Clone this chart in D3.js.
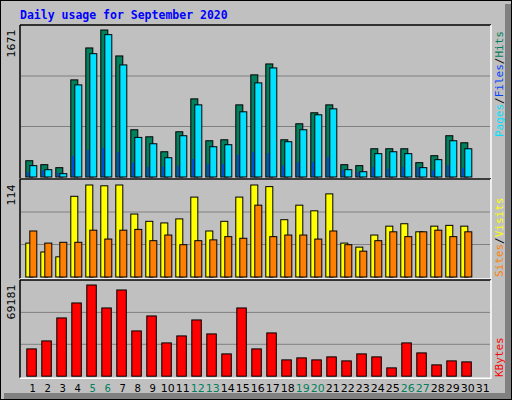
<!DOCTYPE html>
<html><head><meta charset="utf-8">
<script src="https://cdn.jsdelivr.net/npm/d3@7"></script>
<style>body{margin:0;background:#fff}text{font-family:"DejaVu Sans Mono",monospace}</style>
</head><body><svg id="c" width="512" height="400"></svg>
<script>
const days = d3.range(1, 32);
const weekends = [5, 6, 12, 13, 19, 20, 26, 27];
const hits = [185,140,106,1104,1467,1671,1376,537,457,287,514,888,412,423,820,1161,1285,423,605,730,820,140,129,321,321,321,163,242,469,389];
const files = [129,83,38,1047,1402,1618,1274,450,378,219,469,820,344,367,741,1070,1240,401,537,707,775,83,60,265,287,265,106,197,412,321];
const pages = [53,70,45,234,302,325,280,155,110,110,121,200,144,144,246,276,265,121,163,163,223,76,53,106,87,106,106,72,129,95];
const visits = [42,31,25,100,114,113,114,78,69,67,72,99,57,69,99,114,112,71,89,82,103,42,37,52,63,66,56,63,64,63];
const sites = [57,42,43,43,58,47,58,59,45,52,40,45,46,50,48,89,50,52,52,47,57,40,32,45,56,50,56,58,50,56];
const kbytes = [20705,26763,44186,55548,69181,51760,65395,34339,45701,25249,30552,42671,32067,16917,51760,20705,32824,12372,13887,12372,14645,11615,16917,14645,6312,25249,17674,8585,11615,10857];

const svg = d3.select('#c');
svg.append('rect').attr('width', 512).attr('height', 400).attr('fill', '#c0c0c0');
svg.append('rect').attr('x', 505).attr('y', 4).attr('width', 7).attr('height', 396).attr('fill', '#808080');
svg.append('rect').attr('x', 4).attr('y', 393).attr('width', 508).attr('height', 7).attr('fill', '#808080');
svg.append('rect').attr('x', 0.5).attr('y', 0.5).attr('width', 511).attr('height', 399).attr('fill', 'none').attr('stroke', '#000');

svg.append('text').attr('x', 20).attr('y', 19).attr('fill', '#0000ff').attr('font-weight', 'bold')
  .attr('font-size', 11.5).text('Daily usage for September 2020');

const x = d3.scaleLinear().domain([1, 2]).range([25.3, 40.3]);

function panel(top, base, max, maxY) {
  const y = d3.scaleLinear().domain([0, max]).range([base, maxY]);
  const h = base - top;
  [1, 2].forEach(k => svg.append('line').attr('x1', 21).attr('x2', 490)
    .attr('y1', base - h * k / 3 + 0.5).attr('y2', base - h * k / 3 + 0.5).attr('stroke', '#808080'));
  svg.append('line').attr('x1', 20).attr('x2', 491).attr('y1', top).attr('y2', top).attr('stroke', '#000').attr('stroke-width', 1.5);
  svg.append('line').attr('x1', 20).attr('x2', 20).attr('y1', top).attr('y2', base + 2).attr('stroke', '#000').attr('stroke-width', 1.5);
  svg.append('line').attr('x1', 20).attr('x2', 491).attr('y1', base + 2.5).attr('y2', base + 2.5).attr('stroke', '#fff').attr('stroke-width', 1.5);
  svg.append('line').attr('x1', 491).attr('x2', 491).attr('y1', top).attr('y2', base + 3).attr('stroke', '#fff').attr('stroke-width', 1.5);
  svg.append('text').attr('transform', `translate(15,${maxY}) rotate(-90)`).attr('text-anchor', 'end')
    .attr('font-size', 11).attr('fill', '#000').style('font-family', 'DejaVu Sans').text(max);
  return y;
}

function bars(data, y, off, w, fill) {
  svg.append('g').selectAll('rect').data(data).join('rect')
    .attr('x', (d, i) => x(i + 1) + off + 0.5).attr('y', d => y(d) + 0.5)
    .attr('width', w).attr('height', d => y(0) - y(d))
    .attr('fill', fill).attr('stroke', '#000');
}

const y1 = panel(25, 176.5, 1671, 29.5);
bars(hits, y1, 0, 7, '#00805c');
bars(files, y1, 4, 7, '#00e0ff');
svg.append('g').selectAll('rect').data(pages).join('rect')
  .attr('x', (d, i) => x(i + 1) + 2).attr('y', d => y1(d)).attr('width', 1.5)
  .attr('height', d => y1(0) - y1(d)).attr('fill', '#0040ff');

const y2 = panel(179, 276.5, 114, 184.5);
bars(visits, y2, 0, 7, '#ffff00');
bars(sites, y2, 4, 7, '#ff8000');

const y3 = panel(280, 375.7, 69181, 284.5);
bars(kbytes, y3, 1, 9.5, '#ff0000');

svg.append('g').selectAll('text').data(days).join('text')
  .attr('x', d => x(d) + 7.5).attr('y', 392).attr('text-anchor', 'middle').attr('font-size', 10)
  .attr('textLength', d => d > 9 ? 14 : null).attr('lengthAdjust', 'spacingAndGlyphs')
  .style('font-family', 'DejaVu Sans')
  .attr('fill', d => weekends.includes(d) ? '#00805c' : '#000').text(d => d);

function sideLabel(yPos, parts) {
  const t = svg.append('text').attr('transform', `translate(503,${yPos}) rotate(-90)`).attr('font-size', 11);
  parts.forEach(p => t.append('tspan').attr('fill', p[1]).text(p[0]));
}
sideLabel(137, [['Pages', '#00e0ff'], ['/', '#000'], ['Files', '#0040ff'], ['/', '#000'], ['Hits', '#00805c']]);
sideLabel(277, [['Sites', '#ff8000'], ['/', '#000'], ['Visits', '#ffff00']]);
sideLabel(377, [['KBytes', '#ff0000']]);
</script></body></html>
